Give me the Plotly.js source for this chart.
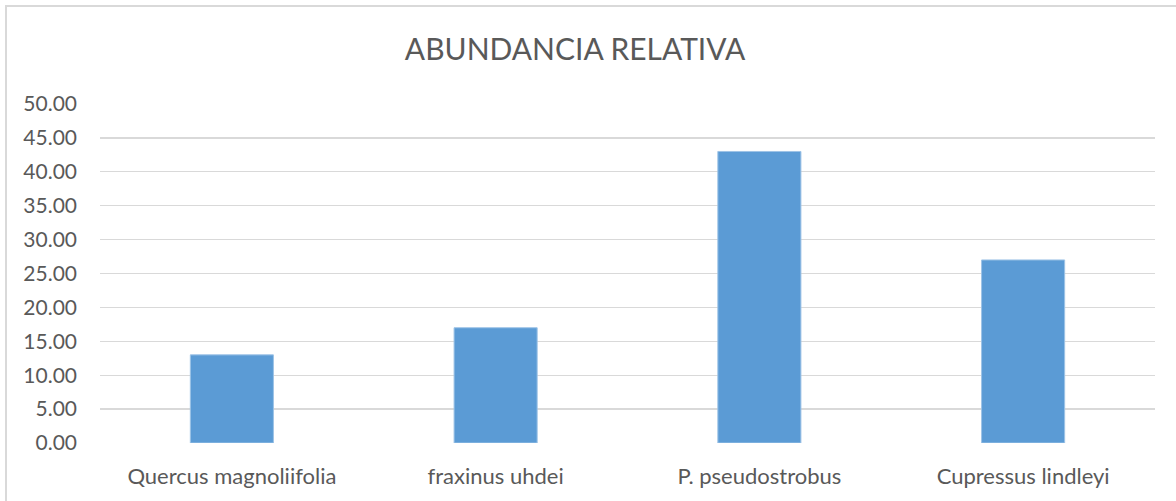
<!DOCTYPE html>
<html>
<head>
<meta charset="utf-8">
<script src="https://cdn.plot.ly/plotly-3.0.1.min.js"></script>
<style>
  html, body { margin: 0; padding: 0; background: #fff; }
  #wrap { position: relative; width: 1176px; height: 501px; overflow: hidden; }
  #chart { position: absolute; left: 0; top: 0; width: 1176px; height: 501px; }
  #frame { position: absolute; left: 5px; top: 5px; width: 1200px; height: 520px;
           border: 2px solid #d9d9d9; box-sizing: border-box; pointer-events: none; }
</style>
</head>
<body>
<div id="wrap">
  <div id="chart"></div>
  <div id="frame"></div>
</div>
<script>
const categories = ["Quercus magnoliifolia", "fraxinus uhdei", "P. pseudostrobus", "Cupressus lindleyi"];
const abundance = [13, 17, 43, 27];
const yTicks = [0, 5, 10, 15, 20, 25, 30, 35, 40, 45, 50];
const chartTitle = "ABUNDANCIA RELATIVA";

const font = "Lato, 'Open Sans', sans-serif";
const textColor = "#595959";

Plotly.newPlot("chart", [{
  type: "bar",
  x: categories,
  y: abundance,
  marker: { color: "#5b9bd5", line: { color: "#9dc3e6", width: 1 } },
  hoverinfo: "x+y"
}], {
  width: 1176,
  height: 501,
  margin: { l: 100, r: 21, t: 104, b: 58 },
  paper_bgcolor: "rgba(0,0,0,0)",
  plot_bgcolor: "rgba(0,0,0,0)",
  bargap: 0.685,
  showlegend: false,
  title: {
    text: chartTitle,
    font: { family: font, size: 30, color: textColor },
    x: 0.489, xanchor: "center",
    y: 0.902, yanchor: "middle"
  },
  xaxis: {
    type: "category",
    showgrid: false,
    showline: false,
    zeroline: false,
    ticks: "",
    tickfont: { family: font, size: 22, color: textColor },
    ticklabelstandoff: 18
  },
  yaxis: {
    range: [0, 50],
    tickvals: yTicks,
    tickformat: ".2f",
    showgrid: true,
    gridcolor: "#d9d9d9",
    gridwidth: 1.3,
    zeroline: false,
    showline: false,
    ticks: "",
    ticklabelstandoff: 22,
    tickfont: { family: font, size: 21, color: textColor }
  }
}, { displayModeBar: false, staticPlot: true });
</script>
</body>
</html>
